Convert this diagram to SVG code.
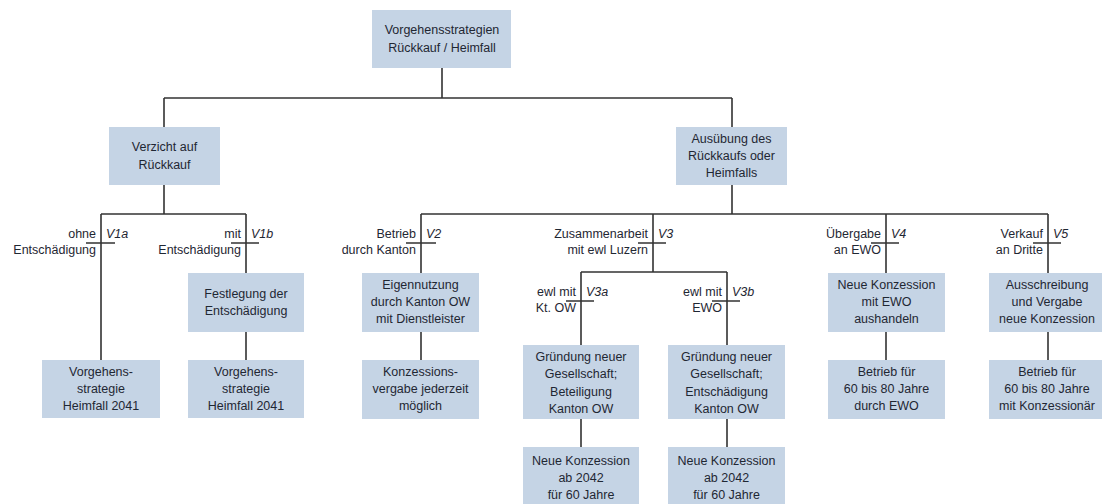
<svg xmlns="http://www.w3.org/2000/svg" width="1102" height="504" viewBox="0 0 1102 504">
<style>
.box{fill:#c5d4e5}
.t{font-family:"Liberation Sans",Arial,sans-serif;font-size:12.5px;fill:#1f2733;text-anchor:middle}
.l{font-family:"Liberation Sans",Arial,sans-serif;font-size:12.5px;fill:#1f2733;text-anchor:end}
.v{font-family:"Liberation Sans",Arial,sans-serif;font-size:12.5px;fill:#1f2733;font-style:italic}
.c{stroke:#333;stroke-width:1.6;fill:none}
</style>
<rect width="1102" height="504" fill="#fff"/>
<g id="connectors" class="c">
<path d="M442 68V98M164 98H732M164 98V127M732 98V127"/>
<path d="M164 185V214M101 214H246M101 214V360M246 214V273M246 332V360"/>
<path d="M86 243H115M231 243H259"/>
<path d="M732 185V214M421 214H1048M421 214V273M421 332V360"/>
<path d="M653 214V272M581 272H727M581 272V345M727 272V345M581 419V447M727 419V447"/>
<path d="M886 214V273M886 332V360M1048 214V273M1048 332V360"/>
<path d="M406 243H436M638 243H666M566 301H594M712 301H740M871 243H899M1033 243H1061"/>
</g>
<g id="root"><rect class="box" x="372" y="10" width="139" height="58"/><text class="t" x="442" y="34">Vorgehensstrategien</text><text class="t" x="442" y="52">Rückkauf / Heimfall</text></g>
<g id="verzicht"><rect class="box" x="109" y="127" width="111" height="58"/><text class="t" x="164.5" y="151">Verzicht auf</text><text class="t" x="164.5" y="169">Rückkauf</text></g>
<g id="ausuebung"><rect class="box" x="676" y="127" width="111" height="58"/><text class="t" x="731.5" y="143">Ausübung des</text><text class="t" x="731.5" y="160">Rückkaufs oder</text><text class="t" x="731.5" y="177">Heimfalls</text></g>
<g id="lab-v1a"><text class="l" x="96" y="238">ohne</text><text class="l" x="96" y="254">Entschädigung</text><text class="v" x="106" y="238">V1a</text></g>
<g id="lab-v1b"><text class="l" x="241" y="238">mit</text><text class="l" x="241" y="254">Entschädigung</text><text class="v" x="251" y="238">V1b</text></g>
<g id="lab-v2"><text class="l" x="416" y="238">Betrieb</text><text class="l" x="416" y="254">durch Kanton</text><text class="v" x="426" y="238">V2</text></g>
<g id="lab-v3"><text class="l" x="648" y="238">Zusammenarbeit</text><text class="l" x="648" y="254">mit ewl Luzern</text><text class="v" x="658" y="238">V3</text></g>
<g id="lab-v3a"><text class="l" x="576" y="296">ewl mit</text><text class="l" x="576" y="312">Kt. OW</text><text class="v" x="586" y="296">V3a</text></g>
<g id="lab-v3b"><text class="l" x="722" y="296">ewl mit</text><text class="l" x="722" y="312">EWO</text><text class="v" x="732" y="296">V3b</text></g>
<g id="lab-v4"><text class="l" x="881" y="238">Übergabe</text><text class="l" x="881" y="254">an EWO</text><text class="v" x="891" y="238">V4</text></g>
<g id="lab-v5"><text class="l" x="1043" y="238">Verkauf</text><text class="l" x="1043" y="254">an Dritte</text><text class="v" x="1053" y="238">V5</text></g>
<g id="v1a-end"><rect class="box" x="42" y="360" width="118" height="58"/><text class="t" x="101" y="376">Vorgehens-</text><text class="t" x="101" y="393">strategie</text><text class="t" x="101" y="410">Heimfall 2041</text></g>
<g id="v1b-fest"><rect class="box" x="188" y="273" width="116" height="59"/><text class="t" x="246" y="298">Festlegung der</text><text class="t" x="246" y="315">Entschädigung</text></g>
<g id="v1b-end"><rect class="box" x="188" y="360" width="116" height="58"/><text class="t" x="246" y="376">Vorgehens-</text><text class="t" x="246" y="393">strategie</text><text class="t" x="246" y="410">Heimfall 2041</text></g>
<g id="v2-eigen"><rect class="box" x="362" y="273" width="117" height="59"/><text class="t" x="420.5" y="289">Eigennutzung</text><text class="t" x="420.5" y="306">durch Kanton OW</text><text class="t" x="420.5" y="323">mit Dienstleister</text></g>
<g id="v2-konz"><rect class="box" x="362" y="360" width="117" height="59"/><text class="t" x="420.5" y="376">Konzessions-</text><text class="t" x="420.5" y="393">vergabe jederzeit</text><text class="t" x="420.5" y="410">möglich</text></g>
<g id="v3a-gr"><rect class="box" x="523" y="345" width="116" height="74"/><text class="t" x="581" y="361">Gründung neuer</text><text class="t" x="581" y="378">Gesellschaft;</text><text class="t" x="581" y="396">Beteiligung</text><text class="t" x="581" y="413">Kanton OW</text></g>
<g id="v3a-konz"><rect class="box" x="523" y="447" width="116" height="60"/><text class="t" x="581" y="465">Neue Konzession</text><text class="t" x="581" y="482">ab 2042</text><text class="t" x="581" y="499">für 60 Jahre</text></g>
<g id="v3b-gr"><rect class="box" x="668" y="345" width="117" height="74"/><text class="t" x="726.5" y="361">Gründung neuer</text><text class="t" x="726.5" y="378">Gesellschaft;</text><text class="t" x="726.5" y="396">Entschädigung</text><text class="t" x="726.5" y="413">Kanton OW</text></g>
<g id="v3b-konz"><rect class="box" x="668" y="447" width="117" height="60"/><text class="t" x="726.5" y="465">Neue Konzession</text><text class="t" x="726.5" y="482">ab 2042</text><text class="t" x="726.5" y="499">für 60 Jahre</text></g>
<g id="v4-neu"><rect class="box" x="828" y="273" width="117" height="59"/><text class="t" x="886.5" y="289">Neue Konzession</text><text class="t" x="886.5" y="306">mit EWO</text><text class="t" x="886.5" y="323">aushandeln</text></g>
<g id="v4-betr"><rect class="box" x="828" y="360" width="117" height="59"/><text class="t" x="886.5" y="376">Betrieb für</text><text class="t" x="886.5" y="393">60 bis 80 Jahre</text><text class="t" x="886.5" y="410">durch EWO</text></g>
<g id="v5-aus"><rect class="box" x="989" y="273" width="113" height="59"/><text class="t" x="1047" y="289">Ausschreibung</text><text class="t" x="1047" y="306">und Vergabe</text><text class="t" x="1047" y="323">neue Konzession</text></g>
<g id="v5-betr"><rect class="box" x="989" y="360" width="113" height="59"/><text class="t" x="1047" y="376">Betrieb für</text><text class="t" x="1047" y="393">60 bis 80 Jahre</text><text class="t" x="1047" y="410">mit Konzessionär</text></g>
</svg>
